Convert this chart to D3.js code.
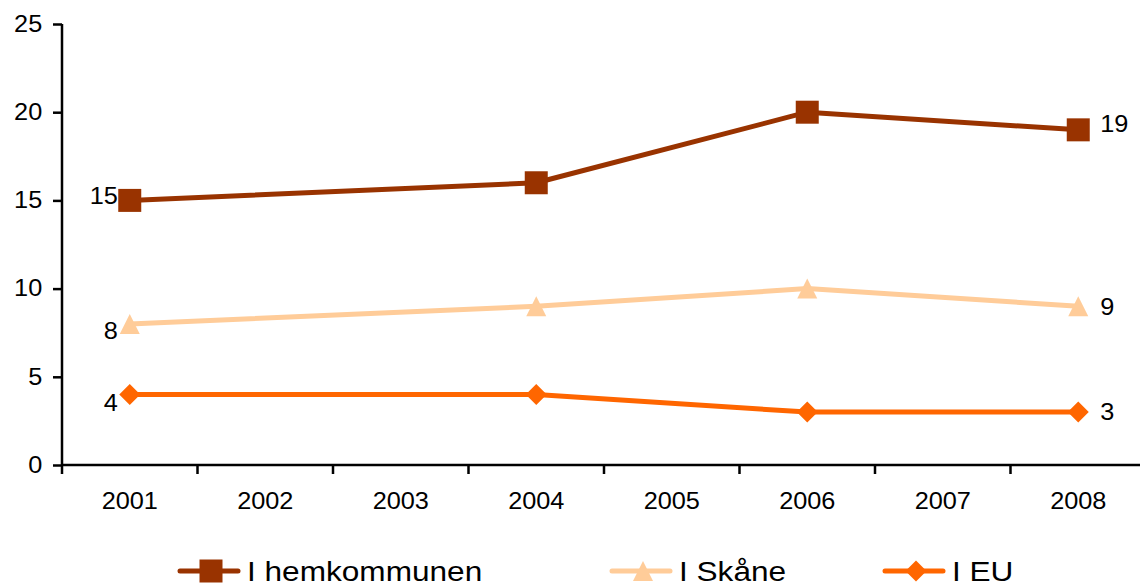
<!DOCTYPE html>
<html>
<head>
<meta charset="utf-8">
<script src="https://cdn.jsdelivr.net/npm/d3@7"></script>
<style>
  body { margin: 0; background: #fff; }
  text { font-family: "Liberation Sans", Arial, sans-serif; fill: #000; }
</style>
</head>
<body>
<div id="chart"></div>
<script>
(function() {
  // data
  var years = ['2001', '2002', '2003', '2004', '2005', '2006', '2007', '2008'];
  var hemkommunen = [15, null, null, 16, null, 20, null, 19];
  var skane = [8, null, null, 9, null, 10, null, 9];
  var eu = [4, null, null, 4, null, 3, null, 3];
  var yTicks = [0, 5, 10, 15, 20, 25];
  var seriesNames = ['I hemkommunen', 'I Skåne', 'I EU'];

  var W = 1140, H = 588;
  var left = 62, right = 1146, top = 24, bottom = 465;
  var stretch = 1.1;
  var fs = 23;

  var svg = d3.select('#chart').append('svg')
    .attr('width', W)
    .attr('height', H);

  var x = d3.scaleBand().domain(years).range([left, right]).padding(0);
  var y = d3.scaleLinear().domain([0, 25]).range([bottom, top]);

  // y axis
  var yAxis = svg.append('g')
    .attr('transform', 'translate(' + left + ',0)')
    .call(d3.axisLeft(y).tickValues(yTicks).tickSize(9).tickPadding(9).tickSizeOuter(0));
  yAxis.select('.domain').attr('stroke', '#000').attr('stroke-width', 2.5)
    .attr('d', 'M0,' + top + 'V' + bottom);
  yAxis.selectAll('.tick line').attr('stroke', '#000').attr('stroke-width', 2.5);
  yAxis.selectAll('.tick text')
    .attr('font-size', fs)
    .attr('font-family', '"Liberation Sans", Arial, sans-serif')
    .attr('fill', '#000')
    .attr('transform', 'scale(' + stretch + ',1)');

  // x axis
  var gx = svg.append('g');
  gx.append('line')
    .attr('x1', left).attr('x2', right)
    .attr('y1', bottom).attr('y2', bottom)
    .attr('stroke', '#000').attr('stroke-width', 2.5);
  gx.selectAll('.xt')
    .data(years.concat(['end']))
    .enter().append('line')
    .attr('class', 'xt')
    .attr('x1', function(d, i) { return left + i * x.step(); })
    .attr('x2', function(d, i) { return left + i * x.step(); })
    .attr('y1', bottom).attr('y2', bottom + 9)
    .attr('stroke', '#000').attr('stroke-width', 2.5);
  gx.selectAll('.xl')
    .data(years)
    .enter().append('text')
    .attr('class', 'xl')
    .attr('text-anchor', 'middle')
    .attr('font-size', fs)
    .attr('transform', function(d) {
      return 'translate(' + (x(d) + x.bandwidth() / 2) + ',' + 509 + ') scale(' + stretch + ',1)';
    })
    .text(function(d) { return d; });

  var cx = function(d) { return x(d.year) + x.bandwidth() / 2; };

  var series = [
    { name: seriesNames[0], values: hemkommunen, color: '#993300', marker: 'square', dyL: -4, dyR: -6 },
    { name: seriesNames[1], values: skane, color: '#FFCC99', marker: 'triangle', dyL: 7, dyR: 1 },
    { name: seriesNames[2], values: eu, color: '#FF6600', marker: 'diamond', dyL: 9, dyR: 0 }
  ];

  function markerPath(type, s) {
    if (type === 'square') return 'M' + (-s / 2) + ',' + (-s / 2) + 'h' + s + 'v' + s + 'h' + (-s) + 'Z';
    if (type === 'triangle') return 'M0,' + (-s / 2) + 'L' + (s / 2) + ',' + (s / 2) + 'L' + (-s / 2) + ',' + (s / 2) + 'Z';
    return 'M0,' + (-s / 2) + 'L' + (s / 2) + ',0L0,' + (s / 2) + 'L' + (-s / 2) + ',0Z';
  }
  var markerSize = { square: 23, triangle: 20, diamond: 21 };

  var line = d3.line()
    .x(cx)
    .y(function(d) { return y(d.v); });

  series.forEach(function(s) {
    var pts = s.values.map(function(v, i) { return { year: years[i], v: v }; })
      .filter(function(d) { return d.v !== null; });

    svg.append('path')
      .datum(pts)
      .attr('d', line)
      .attr('fill', 'none')
      .attr('stroke', s.color)
      .attr('stroke-width', 5)
      .attr('stroke-linejoin', 'round');

    svg.selectAll(null)
      .data(pts)
      .enter().append('path')
      .attr('d', markerPath(s.marker, markerSize[s.marker]))
      .attr('transform', function(d) { return 'translate(' + cx(d) + ',' + y(d.v) + ')'; })
      .attr('fill', s.color);

    var first = pts[0], last = pts[pts.length - 1];
    svg.append('text')
      .attr('text-anchor', 'end')
      .attr('font-size', fs)
      .attr('transform', 'translate(' + (cx(first) - 12) + ',' + (y(first.v) + 8 + s.dyL) + ') scale(' + stretch + ',1)')
      .text(first.v);
    svg.append('text')
      .attr('text-anchor', 'start')
      .attr('font-size', fs)
      .attr('transform', 'translate(' + (cx(last) + 22) + ',' + (y(last.v) + 8 + s.dyR) + ') scale(' + stretch + ',1)')
      .text(last.v);
  });

  // legend
  var legendX = [180, 612, 885];
  var legendY = 571;
  var leg = svg.selectAll('.leg')
    .data(series)
    .enter().append('g')
    .attr('class', 'leg')
    .attr('transform', function(d, i) { return 'translate(' + legendX[i] + ',' + legendY + ')'; });
  leg.append('line')
    .attr('x1', 0).attr('x2', 58)
    .attr('stroke', function(d) { return d.color; })
    .attr('stroke-width', 5)
    .attr('stroke-linecap', 'round');
  leg.append('path')
    .attr('d', function(d) { return markerPath(d.marker, markerSize[d.marker]); })
    .attr('transform', 'translate(31,0)')
    .attr('fill', function(d) { return d.color; });
  leg.append('text')
    .attr('font-size', 27)
    .attr('transform', 'translate(67,10) scale(1.17,1)')
    .text(function(d) { return d.name; });
})();
</script>
</body>
</html>
